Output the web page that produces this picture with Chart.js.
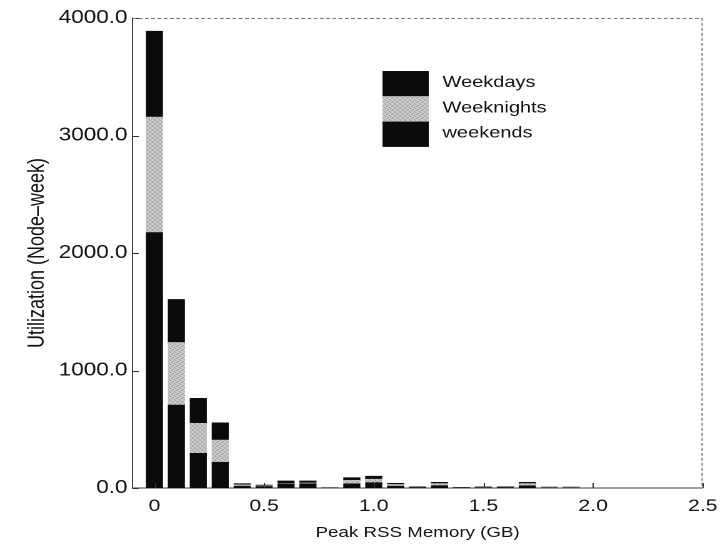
<!DOCTYPE html>
<html>
<head>
<meta charset="utf-8">
<title>Peak RSS Memory utilization</title>
<script src="https://cdn.jsdelivr.net/npm/chart.js@4/dist/chart.umd.min.js"></script>
<style>
  html, body { margin: 0; padding: 0; background: #fff; overflow: hidden; }
  /* the whole figure is set in a horizontally widened face */
  #wrap { width: 582px; height: 548px; transform: scaleX(1.25); transform-origin: 0 0; }
</style>
</head>
<body>
<div id="wrap"><canvas id="rssChart" width="582" height="548"></canvas></div>
<script>
// Peak RSS memory bins (GB)
const memGB = [0, 0.1, 0.2, 0.3, 0.4, 0.5, 0.6, 0.7, 0.8, 0.9,
               1.0, 1.1, 1.2, 1.3, 1.4, 1.5, 1.6, 1.7, 1.8, 1.9];

// node-weeks per bin, stacked bottom to top
const weekends   = [2174, 706, 295, 218, 15, 12, 35, 35, 1, 35, 45, 15, 5, 20, 2, 4, 5, 18, 3, 3];
const weeknights = [ 983, 533, 255, 190, 12,  6,  5,  8, 1, 30, 30, 15, 4, 18, 2, 3, 4, 20, 3, 3];
const weekdays   = [ 731, 366, 213, 147, 10,  7, 20, 17, 1, 23, 25, 10, 3, 10, 2, 3, 3, 10, 2, 2];

const xTicks = [0, 0.5, 1.0, 1.5, 2.0, 2.5];
const xTickLabels = ['0', '0.5', '1.0', '1.5', '2.0', '2.5'];
const yTicks = [0, 1000, 2000, 3000, 4000];
const yTickLabels = ['0.0', '1000.0', '2000.0', '3000.0', '4000.0'];

Chart.defaults.font.family = '"Liberation Sans", Arial, sans-serif';
Chart.defaults.color = '#111';

function stipple() {
    const c = document.createElement('canvas');
    c.width = c.height = 4;
    const g = c.getContext('2d');
    g.fillStyle = '#d6d6d6';
    g.fillRect(0, 0, 4, 4);
    g.fillStyle = '#767676';
    [[0, 0], [2, 1], [1, 2], [3, 3]].forEach(([x, y]) => g.fillRect(x, y, 1, 1));
    return g.createPattern(c, 'repeat');
}

const BLACK = '#0b0b0b';
const GREY = stipple();

function series(values) {
    return values.map((v, i) => ({ x: memGB[i], y: v }));
}

// inward tick marks plus the light top/right frame
const framePlugin = {
    id: 'frame',
    afterDraw(chart) {
        const { ctx, chartArea: a, scales: { x, y } } = chart;
        ctx.save();
        ctx.strokeStyle = '#333';
        ctx.lineWidth = 1;
        ctx.beginPath();
        xTicks.forEach(v => {
            const px = Math.round(x.getPixelForValue(v)) + 0.5;
            ctx.moveTo(px, a.bottom);
            ctx.lineTo(px, a.bottom - 5);
        });
        yTicks.forEach(v => {
            const py = Math.round(y.getPixelForValue(v)) + 0.5;
            ctx.moveTo(a.left, py);
            ctx.lineTo(a.left + 5, py);
        });
        ctx.stroke();

        ctx.strokeStyle = '#777';
        ctx.setLineDash([3, 2]);
        ctx.beginPath();
        ctx.moveTo(a.left, a.top + 0.5);
        ctx.lineTo(a.right - 0.5, a.top + 0.5);
        ctx.lineTo(a.right - 0.5, a.bottom);
        ctx.stroke();
        ctx.restore();
    }
};

// legend drawn as one column of touching swatches
const stackLegend = {
    id: 'stackLegend',
    afterDraw(chart) {
        const { ctx } = chart;
        const items = chart.data.datasets.slice().reverse();
        const left = 306, top = 71, w = 37, h = 25.3;
        ctx.save();
        ctx.font = '16px "Liberation Sans", Arial, sans-serif';
        ctx.textBaseline = 'middle';
        items.forEach((ds, i) => {
            ctx.fillStyle = ds.backgroundColor;
            ctx.fillRect(left, top + i * h, w, h);
            ctx.fillStyle = '#111';
            ctx.fillText(ds.label, left + w + 11, top + i * h + h / 2 - 1);
        });
        ctx.restore();
    }
};

new Chart(document.getElementById('rssChart'), {
    type: 'bar',
    data: {
        datasets: [
            { label: 'weekends', data: series(weekends), backgroundColor: BLACK },
            { label: 'Weeknights', data: series(weeknights), backgroundColor: GREY },
            { label: 'Weekdays', data: series(weekdays), backgroundColor: BLACK }
        ]
    },
    options: {
        responsive: false,
        animation: false,
        devicePixelRatio: 2,
        barThickness: 13,
        borderWidth: 0,
        layout: { padding: { top: 18, right: 14, left: 0, bottom: 0 } },
        plugins: {
            legend: { display: false },
            tooltip: { enabled: false }
        },
        scales: {
            x: {
                type: 'linear',
                min: -0.1,
                max: 2.5,
                offset: false,
                stacked: true,
                afterBuildTicks: s => { s.ticks = xTicks.map(v => ({ value: v })); },
                afterFit: s => { s.height = 60; },
                ticks: {
                    callback: (v, i) => xTickLabels[i],
                    font: { size: 17 },
                    padding: 8,
                    maxRotation: 0,
                    autoSkip: false
                },
                grid: { display: false, drawTicks: false },
                border: { display: true, color: '#444', width: 1 },
                title: {
                    display: true,
                    text: 'Peak RSS Memory (GB)',
                    font: { size: 15 },
                    padding: { top: 0, bottom: 6 }
                }
            },
            y: {
                min: 0,
                max: 4000,
                stacked: true,
                afterBuildTicks: s => { s.ticks = yTicks.map(v => ({ value: v })); },
                afterFit: s => { s.width = 106; },
                ticks: {
                    callback: (v, i) => yTickLabels[i],
                    font: { size: 18 },
                    padding: 4
                },
                grid: { display: false, drawTicks: false },
                border: { display: true, color: '#444', width: 1 },
                title: {
                    display: true,
                    text: 'Utilization (Node–week)',
                    font: { size: 18 },
                    padding: { top: 19, bottom: 0 }
                }
            }
        }
    },
    plugins: [framePlugin, stackLegend]
});
</script>
</body>
</html>
